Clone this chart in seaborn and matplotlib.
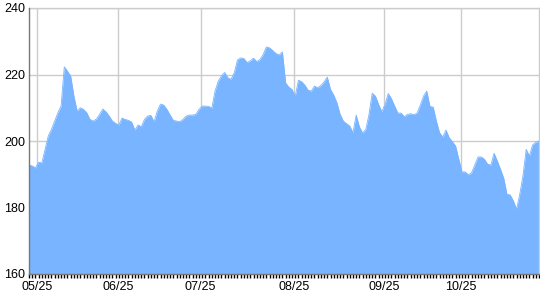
import numpy as np
import pandas as pd
import matplotlib
matplotlib.use("Agg")
import matplotlib.pyplot as plt
import seaborn as sns
from matplotlib.ticker import FixedLocator, MultipleLocator

values = [
    192.8, 192.5, 191.9, 193.6, 193.4, 197.5, 201.5, 203.5, 206.0, 208.5,
    210.5, 222.3, 221.0, 219.5, 213.5, 209.0, 210.0, 209.5, 208.5, 206.5,
    206.0, 206.6, 208.0, 209.6, 208.8, 207.5, 206.0, 205.3, 204.8, 206.9,
    206.5, 206.2, 205.7, 203.3, 204.8, 204.3, 206.5, 207.5, 207.7, 205.8,
    209.0, 211.1, 210.8, 209.5, 207.8, 206.2, 206.0, 205.8, 206.5, 207.5,
    207.8, 207.8, 208.0, 209.5, 210.5, 210.5, 210.4, 209.9, 215.0, 218.0,
    219.6, 220.6, 219.0, 218.6, 220.5, 224.4, 225.0, 224.8, 223.6, 224.1,
    224.9, 223.9, 224.5, 226.0, 228.3, 228.0, 227.2, 226.3, 225.9, 226.8,
    217.5, 216.2, 215.5, 213.5, 218.3, 217.8, 216.8, 215.3, 215.0, 216.5,
    216.0, 216.7, 217.8, 219.2, 215.5, 213.8, 211.5, 208.0, 206.0, 205.2,
    204.5, 202.5, 207.8, 204.3, 202.4, 203.5, 208.0, 214.4, 213.5, 211.0,
    208.8, 211.0, 214.3, 212.7, 210.5, 208.4, 208.4, 207.3, 208.0, 208.2,
    207.9, 208.4, 210.8, 213.5, 215.0, 210.4, 210.2, 206.0, 202.5, 201.2,
    203.3, 201.0, 199.8, 198.5, 194.5, 190.7, 190.7, 189.8, 190.5, 192.8,
    195.2, 195.2, 194.5, 193.0, 192.8, 196.3, 194.0, 191.5, 188.8, 184.0,
    183.8, 182.0, 179.5, 184.0, 189.5, 197.5, 195.5, 198.8, 199.6, 200.0,
]
tick_labels = ["05/25", "06/25", "07/25", "08/25", "09/25", "10/25"]
tick_index = [2.5, 27.7, 53.5, 82.6, 110.7, 134.7]
y_ticks = [160, 180, 200, 220, 240]

df = pd.DataFrame({"idx": np.arange(len(values)), "price": values})

sns.set_style("white")
plt.rcParams["font.family"] = ["Liberation Sans", "DejaVu Sans"]

fig = plt.figure(figsize=(5.4, 3.0), dpi=100)
ax = fig.add_axes([29/540, 1 - 274/300, 510/540, 266/300])

color = "#78b4ff"
ax.fill_between(df["idx"], df["price"], 160, color=color, linewidth=0, zorder=2)
sns.lineplot(data=df, x="idx", y="price", ax=ax, color=color, linewidth=0.6, zorder=3)

ax.set_xlim(0, len(values) - 1)
ax.set_ylim(160, 240)
ax.set_yticks(y_ticks)
ax.set_yticklabels([str(v) for v in y_ticks])
ax.xaxis.set_major_locator(FixedLocator(tick_index))
ax.set_xticklabels(tick_labels)
ax.xaxis.set_minor_locator(MultipleLocator(1))

ax.grid(True, which="major", color="#cccccc", linewidth=1, zorder=1)
ax.set_axisbelow(True)
ax.set_xlabel("")
ax.set_ylabel("")

for side in ["top", "right"]:
    ax.spines[side].set_color("#cccccc")
    ax.spines[side].set_linewidth(1)
for side in ["left", "bottom"]:
    ax.spines[side].set_color("#777777")
    ax.spines[side].set_linewidth(1)
    ax.spines[side].set_zorder(4)

ax.tick_params(axis="y", which="both", left=True, length=0, pad=3, labelsize=9, colors="black")
ax.tick_params(axis="x", which="major", bottom=True, length=0, pad=5, labelsize=9, colors="black")
ax.tick_params(axis="x", which="minor", bottom=True, length=3, width=1, color="black", direction="out")

fig.savefig("out.png", dpi=100)
